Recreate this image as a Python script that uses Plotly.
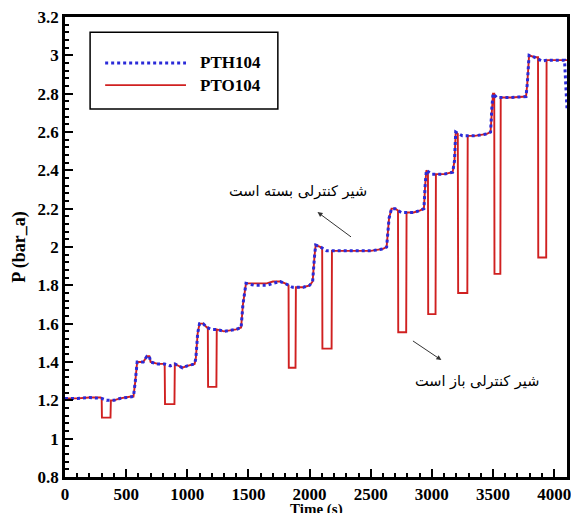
import plotly.graph_objects as go

# ---- data: PTO104 (red, solid) ----
t_pto = [0, 100, 200, 290, 300, 302, 372, 375, 400, 450, 540, 560, 575, 590, 640, 670, 690, 700, 760,
         815, 818, 895, 898, 930, 960, 1000, 1060, 1070, 1085, 1100, 1130, 1160, 1168, 1170, 1238, 1241,
         1300, 1400, 1440, 1455, 1480, 1550, 1650, 1700, 1760, 1800, 1828, 1830, 1885, 1888, 1950, 2000,
         2025, 2040, 2050, 2090, 2103, 2105, 2180, 2183, 2300, 2500, 2600, 2630, 2650, 2670, 2700, 2723,
         2725, 2790, 2793, 2850, 2900, 2935, 2945, 2955, 2968, 2970, 3030, 3033, 3100, 3170, 3185, 3195,
         3212, 3215, 3290, 3293, 3350, 3450, 3480, 3490, 3500, 3510, 3512, 3560, 3563, 3650, 3770, 3780,
         3795, 3840, 3868, 3870, 3935, 3938, 4000, 4105]
p_pto = [1.21, 1.21, 1.215, 1.215, 1.21, 1.11, 1.11, 1.20, 1.20, 1.21, 1.22, 1.22, 1.30, 1.40, 1.40, 1.43, 1.43, 1.40, 1.39,
         1.39, 1.18, 1.18, 1.39, 1.38, 1.37, 1.38, 1.39, 1.42, 1.55, 1.60, 1.60, 1.58, 1.58, 1.27, 1.27, 1.57,
         1.56, 1.57, 1.58, 1.70, 1.81, 1.81, 1.81, 1.82, 1.82, 1.81, 1.80, 1.37, 1.37, 1.79, 1.79, 1.80,
         1.82, 1.95, 2.01, 2.00, 1.99, 1.47, 1.47, 1.98, 1.98, 1.98, 1.99, 2.00, 2.15, 2.20, 2.20, 2.19,
         1.555, 1.555, 2.18, 2.18, 2.19, 2.20, 2.32, 2.40, 2.39, 1.65, 1.65, 2.38, 2.38, 2.39, 2.45, 2.60,
         2.59, 1.76, 1.76, 2.58, 2.58, 2.59, 2.60, 2.72, 2.80, 2.80, 1.86, 1.86, 2.78, 2.78, 2.785, 2.85,
         3.00, 2.99, 2.99, 1.945, 1.945, 2.975, 2.975, 2.975]

# ---- data: PTH104 (blue, dotted) ----
t_pth = [0, 100, 200, 300, 340, 375, 400, 450, 540, 560, 575, 590, 640, 670, 690, 700, 760, 815, 860, 898,
         930, 960, 1000, 1060, 1070, 1085, 1100, 1130, 1160, 1200, 1241, 1300, 1400, 1440, 1455, 1480, 1550,
         1650, 1700, 1760, 1800, 1860, 1888, 1950, 2000, 2025, 2040, 2050, 2090, 2140, 2183, 2300, 2500,
         2600, 2630, 2650, 2670, 2700, 2750, 2793, 2850, 2900, 2935, 2945, 2955, 3000, 3033, 3100, 3170,
         3185, 3195, 3250, 3293, 3350, 3450, 3480, 3490, 3500, 3530, 3563, 3650, 3770, 3780, 3795, 3840,
         3900, 3938, 4000, 4085, 4105]
p_pth = [1.21, 1.21, 1.215, 1.21, 1.20, 1.20, 1.20, 1.21, 1.22, 1.22, 1.30, 1.40, 1.40, 1.43, 1.43, 1.40, 1.39, 1.39, 1.38, 1.39,
         1.38, 1.37, 1.38, 1.39, 1.42, 1.55, 1.60, 1.60, 1.58, 1.57, 1.57, 1.56, 1.57, 1.58, 1.70, 1.81, 1.80,
         1.80, 1.81, 1.82, 1.81, 1.79, 1.79, 1.79, 1.80, 1.82, 1.95, 2.01, 2.00, 1.98, 1.98, 1.98, 1.98,
         1.99, 2.00, 2.15, 2.20, 2.20, 2.18, 2.18, 2.18, 2.19, 2.20, 2.32, 2.40, 2.38, 2.38, 2.38, 2.39,
         2.45, 2.60, 2.58, 2.58, 2.58, 2.59, 2.60, 2.72, 2.80, 2.78, 2.78, 2.78, 2.785, 2.85, 3.00, 2.99,
         2.97, 2.975, 2.975, 2.975, 2.72]

series_names = ["PTH104", "PTO104"]
x_ticks = [0, 500, 1000, 1500, 2000, 2500, 3000, 3500, 4000]
y_ticks = [0.8, 1.0, 1.2, 1.4, 1.6, 1.8, 2.0, 2.2, 2.4, 2.6, 2.8, 3.0, 3.2]
y_ticktext = ["0.8", "1", "1.2", "1.4", "1.6", "1.8", "2", "2.2", "2.4", "2.6", "2.8", "3", "3.2"]
x_title = "Time (s)"
y_title = "P (bar_a)"
note_closed = "شیر کنترلی بسته است"
note_open = "شیر کنترلی باز است"

RED = "#d02020"
BLUE = "#2a2ad8"
serif = "Liberation Serif, Times New Roman, serif"

fig = go.Figure()
fig.add_trace(go.Scatter(x=t_pto, y=p_pto, mode="lines", name=series_names[1],
                         line=dict(color=RED, width=1.9), showlegend=False))
fig.add_trace(go.Scatter(x=t_pth, y=p_pth, mode="lines", name=series_names[0],
                         line=dict(color=BLUE, width=3, dash="dot"), showlegend=False))

# manual legend box
fig.add_shape(type="rect", xref="paper", yref="paper", x0=0.05, x1=0.424, y0=0.80, y1=0.967,
              line=dict(color="black", width=1.5), fillcolor="white", layer="above")
fig.add_shape(type="line", xref="paper", yref="paper", x0=0.08, x1=0.241, y0=0.90, y1=0.90,
              line=dict(color=BLUE, width=3, dash="dot"), layer="above")
fig.add_shape(type="line", xref="paper", yref="paper", x0=0.08, x1=0.241, y0=0.852, y1=0.852,
              line=dict(color=RED, width=1.9), layer="above")
for name, yy in zip(series_names, [0.90, 0.852]):
    fig.add_annotation(xref="paper", yref="paper", x=0.265, y=yy, text=name, showarrow=False,
                       xanchor="left", yanchor="middle",
                       font=dict(family=serif, size=17, color="black", weight="bold"))

# text notes with arrows
fig.add_annotation(x=1902, y=2.287, text=note_closed, showarrow=False,
                   font=dict(family="DejaVu Sans", size=14.5, color="black"))
fig.add_annotation(x=2065, y=2.182, ax=2351, ay=2.047, axref="x", ayref="y", text="",
                   showarrow=True, arrowhead=2, arrowsize=1, arrowwidth=1, arrowcolor="#333333")
fig.add_annotation(x=3371, y=1.296, text=note_open, showarrow=False,
                   font=dict(family="DejaVu Sans", size=14.5, color="black"))
fig.add_annotation(x=3078, y=1.41, ax=2833, ay=1.515, axref="x", ayref="y", text="",
                   showarrow=True, arrowhead=2, arrowsize=1, arrowwidth=1, arrowcolor="#333333")

# x-axis title placed directly below the tick labels
fig.add_annotation(xref="paper", yref="paper", x=0.5, y=-0.048, text=x_title, showarrow=False,
                   xanchor="center", yanchor="top",
                   font=dict(family=serif, size=15, color="black", weight="bold"))

axis_common = dict(showline=True, linecolor="black", linewidth=2.5, mirror=True,
                   ticks="inside", tickcolor="black", tickwidth=2, ticklen=8,
                   showgrid=False, zeroline=False, automargin=False, ticklabeloverflow="allow",
                   tickfont=dict(family=serif, size=17, color="black", weight="bold"))

fig.update_xaxes(range=[0, 4105], tickmode="array", tickvals=x_ticks,
                 minor=dict(ticks="inside", dtick=100, ticklen=4, tickcolor="black", tickwidth=1.5),
                 **axis_common)
fig.update_yaxes(range=[0.8, 3.2], tickmode="array", tickvals=y_ticks, ticktext=y_ticktext,
                 minor=dict(ticks="inside", dtick=0.04, tick0=0.8, ticklen=4, tickcolor="black", tickwidth=1.5),
                 title=dict(text=y_title, standoff=8,
                            font=dict(family=serif, size=18, color="black", weight="bold")),
                 **axis_common)

fig.update_layout(width=571, height=513, margin=dict(l=65, r=4, t=17, b=36),
                  plot_bgcolor="white", paper_bgcolor="white", showlegend=False)

fig.write_html("out.html", config={"displayModeBar": False},
               post_script="document.body.style.margin='0';")
